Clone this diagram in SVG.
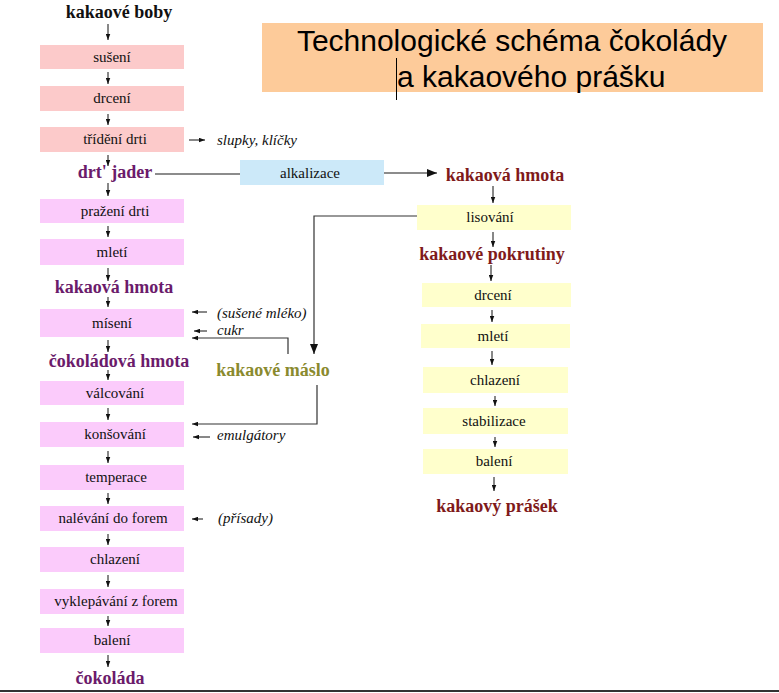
<svg xmlns="http://www.w3.org/2000/svg" width="779" height="693" viewBox="0 0 779 693">
<style>
.t{font-family:"Liberation Serif","Times New Roman",serif;font-size:15px;fill:#111;text-anchor:middle}
.i{font-family:"Liberation Serif","Times New Roman",serif;font-size:15px;font-style:italic;fill:#111}
.b{font-family:"Liberation Serif","Times New Roman",serif;font-size:18px;font-weight:bold;text-anchor:middle}
.pu{fill:#6B1B6B}.rd{fill:#7F1A1A}.ol{fill:#8A8A2E}.bk{fill:#111}
.sal{fill:#FCCACA}.pk{fill:#FBCBFB}.ye{fill:#FFFFCC}.bl{fill:#CCE9F9}
.a{stroke:#111;stroke-width:1;fill:none;marker-end:url(#ah)}
.c{stroke:#333;stroke-width:1.2;fill:none}
.g{stroke:#666;stroke-width:1.5;fill:none}
</style>
<defs>
<marker id="ah" viewBox="0 0 8 6" refX="8" refY="3" markerWidth="6" markerHeight="5" markerUnits="userSpaceOnUse" orient="auto"><path d="M0,0L8,3L0,6z" fill="#111"/></marker>
<marker id="big" viewBox="0 0 10 8" refX="10" refY="4" markerWidth="10" markerHeight="8" markerUnits="userSpaceOnUse" orient="auto"><path d="M0,0L10,4L0,8z" fill="#111"/></marker>
</defs>
<rect width="779" height="693" fill="#fff"/>
<g id="title">
<rect x="262" y="23" width="501" height="69" fill="#FDCB9A"/>
<text x="512" y="51" font-family="'Liberation Sans',Arial,sans-serif" font-size="30" text-anchor="middle" fill="#000">Technologické schéma čokolády</text>
<text x="397" y="87" font-family="'Liberation Sans',Arial,sans-serif" font-size="30" fill="#000">a kakaového prášku</text>
<line x1="396.5" y1="58" x2="396.5" y2="100" stroke="#000" stroke-width="1"/>
</g>
<g id="left-column">
<g id="kakaove-boby"><text class="b bk" x="119" y="18">kakaové boby</text></g>
<g id="suseni"><rect class="sal" x="40" y="45" width="144" height="24"/><text class="t" x="112" y="62">sušení</text></g>
<g id="drceni-l"><rect class="sal" x="40" y="86" width="144" height="25"/><text class="t" x="112" y="103">drcení</text></g>
<g id="trideni"><rect class="sal" x="40" y="127" width="144" height="25"/><text class="t" x="115" y="144">třídění drti</text></g>
<g id="drt-jader"><text class="b pu" x="115" y="178">drt' jader</text></g>
<g id="prazeni"><rect class="pk" x="40" y="199" width="144" height="24"/><text class="t" x="115" y="216">pražení drti</text></g>
<g id="mleti-l"><rect class="pk" x="40" y="239" width="144" height="26"/><text class="t" x="112" y="257">mletí</text></g>
<g id="kakaova-hmota-l"><text class="b pu" x="114" y="293">kakaová hmota</text></g>
<g id="miseni"><rect class="pk" x="40" y="309" width="144" height="28"/><text class="t" x="112" y="328">mísení</text></g>
<g id="cokoladova-hmota"><text class="b pu" x="119" y="367">čokoládová hmota</text></g>
<g id="valcovani"><rect class="pk" x="40" y="381" width="144" height="24"/><text class="t" x="115" y="398">válcování</text></g>
<g id="konsovani"><rect class="pk" x="40" y="422" width="144" height="25"/><text class="t" x="115" y="439">konšování</text></g>
<g id="temperace"><rect class="pk" x="40" y="465" width="144" height="25"/><text class="t" x="116" y="482">temperace</text></g>
<g id="nalevani"><rect class="pk" x="40" y="506" width="144" height="25"/><text class="t" x="113" y="523">nalévání do forem</text></g>
<g id="chlazeni-l"><rect class="pk" x="40" y="547" width="144" height="25"/><text class="t" x="115" y="564">chlazení</text></g>
<g id="vyklepavani"><rect class="pk" x="40" y="589" width="144" height="25"/><text class="t" x="116" y="606">vyklepávání z forem</text></g>
<g id="baleni-l"><rect class="pk" x="40" y="628" width="144" height="25"/><text class="t" x="112" y="645">balení</text></g>
<g id="cokolada"><text class="b pu" x="110" y="684">čokoláda</text></g>
</g>
<g id="alkalizace"><rect class="bl" x="240" y="160" width="144" height="25"/><text class="t" x="310" y="178">alkalizace</text></g>
<g id="right-column">
<g id="kakaova-hmota-r"><text class="b rd" x="505" y="181">kakaová hmota</text></g>
<g id="lisovani"><rect class="ye" x="417" y="205" width="154" height="25"/><text class="t" x="490" y="222">lisování</text></g>
<g id="pokrutiny"><text class="b rd" x="492" y="260">kakaové pokrutiny</text></g>
<g id="drceni-r"><rect class="ye" x="422" y="283" width="149" height="24"/><text class="t" x="493" y="300">drcení</text></g>
<g id="mleti-r"><rect class="ye" x="421" y="324" width="149" height="24"/><text class="t" x="493" y="341">mletí</text></g>
<g id="chlazeni-r"><rect class="ye" x="423" y="367" width="145" height="26"/><text class="t" x="495" y="385">chlazení</text></g>
<g id="stabilizace"><rect class="ye" x="423" y="408" width="145" height="26"/><text class="t" x="494" y="426">stabilizace</text></g>
<g id="baleni-r"><rect class="ye" x="423" y="449" width="145" height="25"/><text class="t" x="494" y="466">balení</text></g>
<g id="prasek"><text class="b rd" x="497" y="512">kakaový prášek</text></g>
</g>
<g id="maslo"><text class="b ol" x="273" y="376">kakaové máslo</text></g>
<g id="side-labels">
<text class="i" x="217" y="145">slupky, klíčky</text>
<text class="i" x="217" y="318">(sušené mléko)</text>
<text class="i" x="217" y="335">cukr</text>
<text class="i" x="217" y="440">emulgátory</text>
<text class="i" x="218" y="523">(přísady)</text>
</g>
<g id="connectors">
<line class="a" x1="108" y1="24" x2="108" y2="40"/>
<line class="a" x1="108" y1="72" x2="108" y2="84"/>
<line class="a" x1="108" y1="114" x2="108" y2="125"/>
<line class="a" x1="108" y1="155" x2="108" y2="166"/>
<line class="a" x1="108" y1="183" x2="108" y2="196"/>
<line class="a" x1="108" y1="226" x2="108" y2="237"/>
<line class="a" x1="108" y1="268" x2="108" y2="281"/>
<line class="a" x1="108" y1="297" x2="108" y2="307"/>
<line class="a" x1="108" y1="340" x2="108" y2="352"/>
<line class="a" x1="108" y1="370" x2="108" y2="380"/>
<line class="a" x1="108" y1="408" x2="108" y2="420"/>
<line class="a" x1="108" y1="451" x2="108" y2="463"/>
<line class="a" x1="108" y1="493" x2="108" y2="504"/>
<line class="a" x1="108" y1="534" x2="108" y2="545"/>
<line class="a" x1="108" y1="575" x2="108" y2="587"/>
<line class="a" x1="108" y1="616" x2="108" y2="626"/>
<line class="a" x1="108" y1="655" x2="108" y2="667"/>
<line class="a" x1="493" y1="186" x2="493" y2="203"/>
<line class="a" x1="493" y1="232" x2="493" y2="247"/>
<line class="a" x1="491" y1="265" x2="491" y2="281"/>
<line class="a" x1="492" y1="310" x2="492" y2="322"/>
<line class="a" x1="492" y1="351" x2="492" y2="365"/>
<line class="a" x1="495" y1="396" x2="495" y2="406"/>
<line class="a" x1="495" y1="437" x2="495" y2="447"/>
<line class="a" x1="494" y1="477" x2="494" y2="491"/>
<line class="a" x1="189" y1="140" x2="205" y2="140"/>
<line class="a" x1="207" y1="312" x2="192" y2="312"/>
<line class="a" x1="207" y1="331" x2="194" y2="331"/>
<line class="a" x1="210" y1="437" x2="193" y2="437"/>
<line class="a" x1="203" y1="519" x2="192" y2="519"/>
<line class="g" x1="155" y1="174" x2="240" y2="174"/>
<line class="g" x1="384" y1="173" x2="437" y2="173" style="marker-end:url(#big)"/>
<polyline class="c" points="417,216 314,216 314,354" style="marker-end:url(#big)"/>
<polyline class="c" points="288,354 288,338 192,338" style="marker-end:url(#ah)"/>
<polyline class="c" points="317,385 317,424 192,424" style="marker-end:url(#ah)"/>
</g>
<line x1="0" y1="691" x2="779" y2="691" stroke="#333" stroke-width="2"/>
</svg>
